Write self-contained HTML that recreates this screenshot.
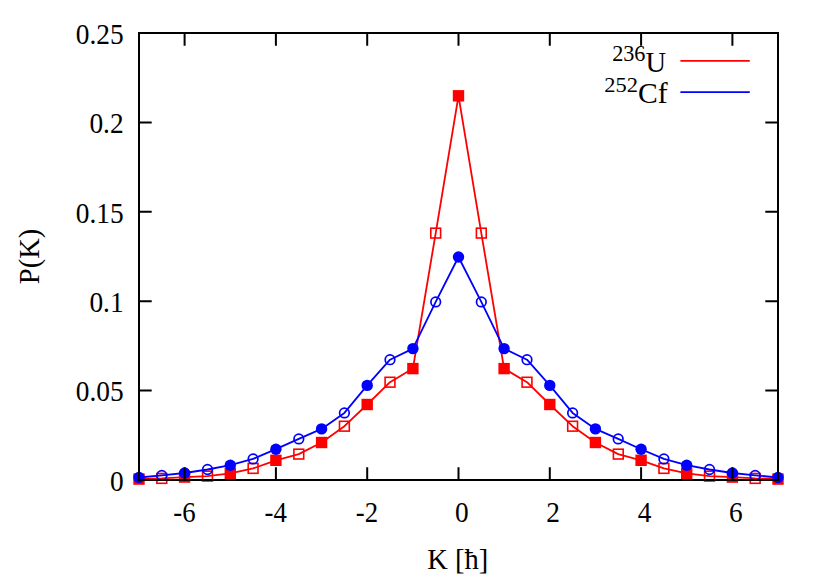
<!DOCTYPE html>
<html lang="en"><head><meta charset="utf-8"><title>P(K)</title>
<style>
html,body{margin:0;padding:0;background:#fff;}
svg{display:block;}
text{font-family:"Liberation Serif",serif;font-size:28.5px;fill:#000;}
</style></head><body>
<svg width="822" height="587" viewBox="0 0 822 587">
<rect width="822" height="587" fill="#fff"/>
<g id="u236">
<polyline points="139.0,479.1 161.8,478.4 184.6,477.1 207.5,476.1 230.3,473.4 253.1,468.4 275.9,460.3 298.8,454.1 321.6,442.5 344.4,426.2 367.2,404.5 390.0,382.2 412.9,368.6 435.7,233.1 458.5,95.8 481.3,233.1 504.1,368.6 527.0,382.2 549.8,404.5 572.6,426.2 595.4,442.5 618.2,454.1 641.1,460.3 663.9,468.4 686.7,473.4 709.5,476.1 732.4,477.1 755.2,478.4 778.0,479.1" fill="none" stroke="#ff0000" stroke-width="1.8" stroke-linejoin="round"/>
<rect x="133.3" y="473.4" width="11.4" height="11.4" fill="#ff0000"/>
<rect x="156.9" y="473.5" width="9.8" height="9.8" fill="none" stroke="#ff0000" stroke-width="1.6"/>
<rect x="178.9" y="471.4" width="11.4" height="11.4" fill="#ff0000"/>
<rect x="202.6" y="471.2" width="9.8" height="9.8" fill="none" stroke="#ff0000" stroke-width="1.6"/>
<rect x="224.6" y="467.7" width="11.4" height="11.4" fill="#ff0000"/>
<rect x="248.2" y="463.5" width="9.8" height="9.8" fill="none" stroke="#ff0000" stroke-width="1.6"/>
<rect x="270.2" y="454.6" width="11.4" height="11.4" fill="#ff0000"/>
<rect x="293.9" y="449.2" width="9.8" height="9.8" fill="none" stroke="#ff0000" stroke-width="1.6"/>
<rect x="315.9" y="436.8" width="11.4" height="11.4" fill="#ff0000"/>
<rect x="339.5" y="421.3" width="9.8" height="9.8" fill="none" stroke="#ff0000" stroke-width="1.6"/>
<rect x="361.5" y="398.8" width="11.4" height="11.4" fill="#ff0000"/>
<rect x="385.1" y="377.3" width="9.8" height="9.8" fill="none" stroke="#ff0000" stroke-width="1.6"/>
<rect x="407.2" y="362.9" width="11.4" height="11.4" fill="#ff0000"/>
<rect x="430.8" y="228.2" width="9.8" height="9.8" fill="none" stroke="#ff0000" stroke-width="1.6"/>
<rect x="452.8" y="90.1" width="11.4" height="11.4" fill="#ff0000"/>
<rect x="476.4" y="228.2" width="9.8" height="9.8" fill="none" stroke="#ff0000" stroke-width="1.6"/>
<rect x="498.4" y="362.9" width="11.4" height="11.4" fill="#ff0000"/>
<rect x="522.1" y="377.3" width="9.8" height="9.8" fill="none" stroke="#ff0000" stroke-width="1.6"/>
<rect x="544.1" y="398.8" width="11.4" height="11.4" fill="#ff0000"/>
<rect x="567.7" y="421.3" width="9.8" height="9.8" fill="none" stroke="#ff0000" stroke-width="1.6"/>
<rect x="589.7" y="436.8" width="11.4" height="11.4" fill="#ff0000"/>
<rect x="613.4" y="449.2" width="9.8" height="9.8" fill="none" stroke="#ff0000" stroke-width="1.6"/>
<rect x="635.4" y="454.6" width="11.4" height="11.4" fill="#ff0000"/>
<rect x="659.0" y="463.5" width="9.8" height="9.8" fill="none" stroke="#ff0000" stroke-width="1.6"/>
<rect x="681.0" y="467.7" width="11.4" height="11.4" fill="#ff0000"/>
<rect x="704.6" y="471.2" width="9.8" height="9.8" fill="none" stroke="#ff0000" stroke-width="1.6"/>
<rect x="726.7" y="471.4" width="11.4" height="11.4" fill="#ff0000"/>
<rect x="750.3" y="473.5" width="9.8" height="9.8" fill="none" stroke="#ff0000" stroke-width="1.6"/>
<rect x="772.3" y="473.4" width="11.4" height="11.4" fill="#ff0000"/>
</g>
<g id="cf252">
<polyline points="139.0,477.5 161.8,475.4 184.6,473.0 207.5,469.5 230.3,465.2 253.1,458.9 275.9,449.2 298.8,438.9 321.6,428.9 344.4,412.9 367.2,385.4 390.0,359.7 412.9,348.6 435.7,301.9 458.5,257.0 481.3,301.9 504.1,348.6 527.0,359.7 549.8,385.4 572.6,412.9 595.4,428.9 618.2,438.9 641.1,449.2 663.9,458.9 686.7,465.2 709.5,469.5 732.4,473.0 755.2,475.4 778.0,477.5" fill="none" stroke="#0000ff" stroke-width="1.8" stroke-linejoin="round"/>
<circle cx="139.0" cy="477.5" r="5.7" fill="#0000ff"/>
<circle cx="161.8" cy="475.4" r="4.8" fill="none" stroke="#0000ff" stroke-width="1.7"/>
<circle cx="184.6" cy="473.0" r="5.7" fill="#0000ff"/>
<circle cx="207.5" cy="469.5" r="4.8" fill="none" stroke="#0000ff" stroke-width="1.7"/>
<circle cx="230.3" cy="465.2" r="5.7" fill="#0000ff"/>
<circle cx="253.1" cy="458.9" r="4.8" fill="none" stroke="#0000ff" stroke-width="1.7"/>
<circle cx="275.9" cy="449.2" r="5.7" fill="#0000ff"/>
<circle cx="298.8" cy="438.9" r="4.8" fill="none" stroke="#0000ff" stroke-width="1.7"/>
<circle cx="321.6" cy="428.9" r="5.7" fill="#0000ff"/>
<circle cx="344.4" cy="412.9" r="4.8" fill="none" stroke="#0000ff" stroke-width="1.7"/>
<circle cx="367.2" cy="385.4" r="5.7" fill="#0000ff"/>
<circle cx="390.0" cy="359.7" r="4.8" fill="none" stroke="#0000ff" stroke-width="1.7"/>
<circle cx="412.9" cy="348.6" r="5.7" fill="#0000ff"/>
<circle cx="435.7" cy="301.9" r="4.8" fill="none" stroke="#0000ff" stroke-width="1.7"/>
<circle cx="458.5" cy="257.0" r="5.7" fill="#0000ff"/>
<circle cx="481.3" cy="301.9" r="4.8" fill="none" stroke="#0000ff" stroke-width="1.7"/>
<circle cx="504.1" cy="348.6" r="5.7" fill="#0000ff"/>
<circle cx="527.0" cy="359.7" r="4.8" fill="none" stroke="#0000ff" stroke-width="1.7"/>
<circle cx="549.8" cy="385.4" r="5.7" fill="#0000ff"/>
<circle cx="572.6" cy="412.9" r="4.8" fill="none" stroke="#0000ff" stroke-width="1.7"/>
<circle cx="595.4" cy="428.9" r="5.7" fill="#0000ff"/>
<circle cx="618.2" cy="438.9" r="4.8" fill="none" stroke="#0000ff" stroke-width="1.7"/>
<circle cx="641.1" cy="449.2" r="5.7" fill="#0000ff"/>
<circle cx="663.9" cy="458.9" r="4.8" fill="none" stroke="#0000ff" stroke-width="1.7"/>
<circle cx="686.7" cy="465.2" r="5.7" fill="#0000ff"/>
<circle cx="709.5" cy="469.5" r="4.8" fill="none" stroke="#0000ff" stroke-width="1.7"/>
<circle cx="732.4" cy="473.0" r="5.7" fill="#0000ff"/>
<circle cx="755.2" cy="475.4" r="4.8" fill="none" stroke="#0000ff" stroke-width="1.7"/>
<circle cx="778.0" cy="477.5" r="5.7" fill="#0000ff"/>
</g>
<line x1="680.4" y1="60.9" x2="749.8" y2="60.9" stroke="#ff0000" stroke-width="1.8"/>
<line x1="680.4" y1="92.2" x2="749.8" y2="92.2" stroke="#0000ff" stroke-width="1.8"/>
<text x="666" y="71.6" text-anchor="end"><tspan font-size="22.2" dy="-10.5">236</tspan><tspan dy="10.5">U</tspan></text>
<text transform="translate(667.6,102.7) scale(1.04,1)" text-anchor="end"><tspan font-size="21.6" dy="-10.5">252</tspan><tspan dy="10.5">Cf</tspan></text>
<g stroke="#000" stroke-width="2" fill="none" stroke-linecap="butt">
<rect x="139.0" y="33.0" width="639.0" height="447.0"/>
<path d="M184.6 480.0V467.3M184.6 33.0V45.7"/>
<path d="M275.9 480.0V467.3M275.9 33.0V45.7"/>
<path d="M367.2 480.0V467.3M367.2 33.0V45.7"/>
<path d="M458.5 480.0V467.3M458.5 33.0V45.7"/>
<path d="M549.8 480.0V467.3M549.8 33.0V45.7"/>
<path d="M641.1 480.0V467.3M641.1 33.0V45.7"/>
<path d="M732.4 480.0V467.3M732.4 33.0V45.7"/>
<path d="M139.0 390.6H151.7M778.0 390.6H765.3"/>
<path d="M139.0 301.2H151.7M778.0 301.2H765.3"/>
<path d="M139.0 211.8H151.7M778.0 211.8H765.3"/>
<path d="M139.0 122.4H151.7M778.0 122.4H765.3"/>
</g>
<text transform="translate(184.4,521.7) scale(0.94,1.03)" text-anchor="middle">-6</text>
<text transform="translate(275.7,521.7) scale(0.94,1.03)" text-anchor="middle">-4</text>
<text transform="translate(367.0,521.7) scale(0.94,1.03)" text-anchor="middle">-2</text>
<text transform="translate(461.9,521.7) scale(0.96,1.03)" text-anchor="middle">0</text>
<text transform="translate(553.2,521.7) scale(0.96,1.03)" text-anchor="middle">2</text>
<text transform="translate(644.5,521.7) scale(0.96,1.03)" text-anchor="middle">4</text>
<text transform="translate(735.8,521.7) scale(0.96,1.03)" text-anchor="middle">6</text>
<text transform="translate(123.6,490.8) scale(0.96,1.035)" text-anchor="end">0</text>
<text transform="translate(123.6,401.4) scale(0.96,1.035)" text-anchor="end">0.05</text>
<text transform="translate(123.6,312.0) scale(0.96,1.035)" text-anchor="end">0.1</text>
<text transform="translate(123.6,222.6) scale(0.96,1.035)" text-anchor="end">0.15</text>
<text transform="translate(123.6,133.2) scale(0.96,1.035)" text-anchor="end">0.2</text>
<text transform="translate(123.6,43.8) scale(0.96,1.035)" text-anchor="end">0.25</text>
<text x="457.8" y="569" text-anchor="middle">K [ħ]</text>
<text transform="translate(38.8,256.5) rotate(-90)" text-anchor="middle">P(K)</text>
</svg>
</body></html>
